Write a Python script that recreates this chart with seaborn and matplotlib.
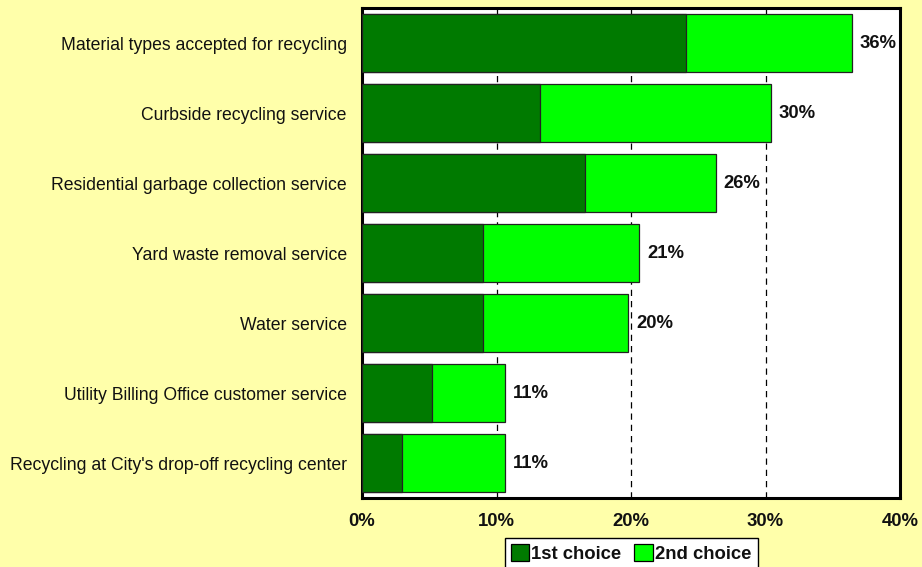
import matplotlib
matplotlib.use("Agg")
import matplotlib.pyplot as plt
import seaborn as sns
import pandas as pd
from matplotlib.patches import Patch

categories = [
    "Material types accepted for recycling",
    "Curbside recycling service",
    "Residential garbage collection service",
    "Yard waste removal service",
    "Water service",
    "Utility Billing Office customer service",
    "Recycling at City's drop-off recycling center",
]
first_choice = [24.1, 13.2, 16.6, 9.0, 9.0, 5.2, 3.0]
second_choice = [12.3, 17.2, 9.7, 11.6, 10.8, 5.4, 7.6]
x_ticks = [0, 10, 20, 30, 40]
series_names = ["1st choice", "2nd choice"]

dark_green = "#007A00"
light_green = "#00FF00"
bg_yellow = "#FFFFAA"

sns.set_theme(style="white")
plt.rcParams["font.family"] = ["Liberation Sans", "DejaVu Sans"]

df = pd.DataFrame({
    "category": categories,
    "first": first_choice,
    "second": second_choice,
})
df["total"] = df["first"] + df["second"]

fig = plt.figure(figsize=(9.22, 5.67), dpi=100, facecolor=bg_yellow)
ax = fig.add_axes([362 / 922, 1 - 498 / 567, (900 - 362) / 922, (498 - 8) / 567])
ax.set_facecolor("white")

# Dashed vertical gridlines behind the bars
for t in x_ticks[1:-1]:
    ax.axvline(t, color="black", linestyle=(0, (5, 4)), linewidth=0.9, zorder=0)

sns.barplot(data=df, y="category", x="total", orient="h", color=light_green,
            saturation=1, width=0.84, edgecolor="#222222", linewidth=0.9,
            ax=ax, zorder=2)
sns.barplot(data=df, y="category", x="first", orient="h", color=dark_green,
            saturation=1, width=0.84, edgecolor="#222222", linewidth=0.9,
            ax=ax, zorder=3)

for i, tot in enumerate(df["total"]):
    ax.text(tot + 0.6, i, f"{tot:.0f}%", va="center", ha="left",
            fontsize=13.3, fontweight="bold", color="#111111", zorder=4)

ax.set_xlim(0, 40)
ax.set_ylim(len(categories) - 0.5, -0.5)
ax.set_xticks(x_ticks)
ax.set_xticklabels([f"{t}%" for t in x_ticks], fontsize=13.3, fontweight="bold",
                   color="#111111")
ax.tick_params(axis="x", length=0, pad=11)
ax.tick_params(axis="y", length=0, pad=11, labelsize=12.7, labelcolor="#111111")
ax.set_xlabel("")
ax.set_ylabel("")
for s in ax.spines.values():
    s.set_visible(True)
    s.set_color("black")
    s.set_linewidth(2.2)

handles = [Patch(facecolor=dark_green, edgecolor="black", linewidth=0.9),
           Patch(facecolor=light_green, edgecolor="black", linewidth=0.9)]
leg = fig.legend(handles, series_names, loc="upper center",
                 bbox_to_anchor=(631 / 922, 1 - 538 / 567), ncol=2,
                 frameon=True, fancybox=False, framealpha=1,
                 prop={"size": 13.3, "weight": "bold"},
                 handlelength=1.0, handleheight=1.0, handletextpad=0.1,
                 columnspacing=0.7, borderpad=0.35, borderaxespad=0)
leg.get_frame().set_edgecolor("black")
leg.get_frame().set_linewidth(1.0)
for txt in leg.get_texts():
    txt.set_color("#111111")

fig.savefig("out.png", dpi=100, facecolor=bg_yellow)
